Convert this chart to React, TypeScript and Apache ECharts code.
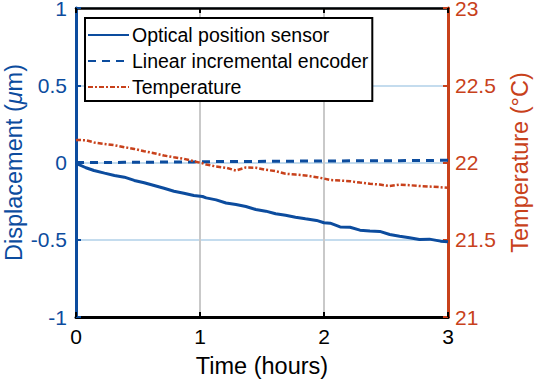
import React, { useEffect, useRef } from "react";
import * as echarts from "echarts";

const timeHours = [
  0, 0.015, 0.08, 0.145, 0.23, 0.31, 0.39, 0.47, 0.55, 0.63, 0.71, 0.79, 0.87, 0.95, 1.02,
  1.05, 1.13, 1.21, 1.29, 1.37, 1.45, 1.53, 1.61, 1.69, 1.77, 1.85, 1.94, 2.0, 2.05,
  2.13, 2.21, 2.29, 2.37, 2.45, 2.53, 2.61, 2.69, 2.77, 2.85, 2.94, 3.0,
];
const opticalSensor = [
  0, -0.01, -0.034, -0.052, -0.069, -0.084, -0.095, -0.116, -0.131, -0.149, -0.167, -0.186,
  -0.199, -0.214, -0.22, -0.229, -0.242, -0.262, -0.272, -0.285, -0.304, -0.315, -0.332,
  -0.341, -0.354, -0.364, -0.375, -0.39, -0.393, -0.417, -0.419, -0.438, -0.444, -0.446,
  -0.466, -0.477, -0.487, -0.499, -0.496, -0.509, -0.513,
];
const linearEncoder = [
  0, 0, 0, 0, 0, 0, 0.001, 0.001, 0.002, 0.002, 0.003, 0.003, 0.004, 0.004, 0.005, 0.005,
  0.006, 0.006, 0.006, 0.007, 0.007, 0.008, 0.008, 0.008, 0.009, 0.009, 0.009, 0.01, 0.01,
  0.01, 0.011, 0.011, 0.011, 0.012, 0.012, 0.012, 0.013, 0.013, 0.013, 0.014, 0.014,
];
const temperature = [
  22.144, 22.146, 22.144, 22.13, 22.12, 22.112, 22.099, 22.088, 22.073, 22.06, 22.045,
  22.034, 22.024, 22.008, 21.995, 21.987, 21.974, 21.966, 21.948, 21.968, 21.966, 21.953,
  21.944, 21.927, 21.922, 21.916, 21.905, 21.896, 21.887, 21.883, 21.879, 21.87, 21.862,
  21.857, 21.848, 21.857, 21.853, 21.848, 21.844, 21.84, 21.836,
];
const seriesNames = ["Optical position sensor", "Linear incremental encoder", "Temperature"];
const xTicks = [0, 1, 2, 3];

const BLUE = "#0C4C9E";
const RED = "#C8411B";
const FONT = "Liberation Sans, Arial, sans-serif";

export default function App() {
  const ref = useRef<HTMLDivElement>(null);
  useEffect(() => {
    if (!ref.current) return;
    const chart = echarts.init(ref.current, undefined, { renderer: "svg" });
    const pairs = (vals: number[]) => timeHours.map((t, i) => [t, vals[i]]);
    chart.setOption({
      animation: false,
      backgroundColor: "#ffffff",
      textStyle: { fontFamily: FONT },
      grid: { left: 76, right: 86, top: 8, bottom: 68, containLabel: false, outerBoundsMode: "none" },
      legend: {
        orient: "vertical",
        left: 85,
        top: 18,
        padding: [7, 4, 4, 2],
        itemWidth: 41,
        itemHeight: 14,
        itemGap: 6,
        backgroundColor: "#ffffff",
        borderColor: "#000000",
        borderWidth: 2,
        borderRadius: 0,
        itemStyle: { opacity: 0 },
        textStyle: { fontSize: 19.5, color: "#000", fontFamily: FONT, padding: [0, 0, 0, -2] },
        data: seriesNames,
      },
      xAxis: [
        {
          type: "value",
          min: xTicks[0],
          max: xTicks[xTicks.length - 1],
          interval: 1,
          name: "Time (hours)",
          nameLocation: "middle",
          nameGap: 37,
          nameMoveOverlap: false,
          nameTextStyle: { fontSize: 23.5, color: "#000", fontFamily: FONT },
          axisLine: { show: true, onZero: false, lineStyle: { color: "#000", width: 3 } },
          axisTick: { show: true, inside: true, length: 5, lineStyle: { color: "#000", width: 2 } },
          axisLabel: { fontSize: 21, color: "#000", margin: 9, fontFamily: FONT },
          splitLine: { show: true, lineStyle: { color: "#c9c9c9", width: 2 } },
        },
        {
          type: "value",
          position: "top",
          min: xTicks[0],
          max: xTicks[xTicks.length - 1],
          interval: 1,
          axisLine: { show: true, onZero: false, lineStyle: { color: "#000", width: 2.5 } },
          axisTick: { show: true, inside: true, length: 5, lineStyle: { color: "#000", width: 2 } },
          axisLabel: { show: false },
          splitLine: { show: false },
        },
      ],
      yAxis: [
        {
          type: "value",
          min: -1,
          max: 1,
          interval: 0.5,
          position: "left",
          name: "Displacement ({i|μ}m)",
          nameLocation: "middle",
          nameGap: 50,
          nameMoveOverlap: false,
          nameTextStyle: {
            fontSize: 23.5,
            color: BLUE,
            fontFamily: FONT,
            rich: { i: { fontStyle: "italic", fontSize: 23.5, color: BLUE, fontFamily: FONT } },
          },
          axisLine: { show: true, onZero: false, lineStyle: { color: BLUE, width: 3 } },
          axisTick: { show: true, inside: true, length: 5, lineStyle: { color: BLUE, width: 2 } },
          axisLabel: { fontSize: 21, lineHeight: 16, color: BLUE, margin: 9, fontFamily: FONT },
          splitLine: { show: true, lineStyle: { color: "#c4dcee", width: 2 } },
        },
        {
          type: "value",
          min: 21,
          max: 23,
          interval: 0.5,
          position: "right",
          name: "Temperature (°C)",
          nameLocation: "middle",
          nameGap: 60,
          nameRotate: 90,
          nameMoveOverlap: false,
          nameTextStyle: { fontSize: 23.5, color: RED, fontFamily: FONT },
          axisLine: { show: true, onZero: false, lineStyle: { color: RED, width: 3 } },
          axisTick: { show: true, inside: true, length: 5, lineStyle: { color: RED, width: 2 } },
          axisLabel: { fontSize: 21, lineHeight: 16, color: RED, margin: 7, fontFamily: FONT },
          splitLine: { show: false },
        },
      ],
      series: [
        {
          name: seriesNames[0],
          type: "line",
          data: pairs(opticalSensor),
          symbol: "none",
          lineStyle: { color: BLUE, width: 3, type: "solid" },
          itemStyle: { color: BLUE },
          z: 3,
        },
        {
          name: seriesNames[1],
          type: "line",
          data: pairs(linearEncoder),
          symbol: "none",
          lineStyle: { color: BLUE, width: 3, type: [8, 6] },
          itemStyle: { color: BLUE },
          z: 3,
        },
        {
          name: seriesNames[2],
          type: "line",
          yAxisIndex: 1,
          data: pairs(temperature),
          symbol: "none",
          lineStyle: { color: RED, width: 2.5, type: [5, 2, 2, 2] },
          itemStyle: { color: RED },
          z: 4,
        },
      ],
    });
    return () => chart.dispose();
  }, []);
  return <div ref={ref} style={{ width: 534, height: 385, position: "absolute", left: 0, top: 0 }} />;
}
